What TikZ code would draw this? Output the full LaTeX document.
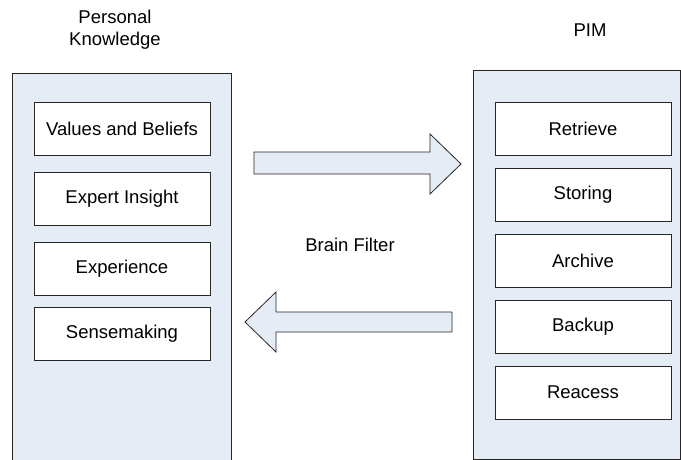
\documentclass[tikz,border=0pt]{standalone}
\usepackage{fontspec}
\setmainfont{Liberation Sans}
\begin{document}
\begin{tikzpicture}[x=1pt,y=-1pt,
  panel/.style={draw=black!85,fill=panelblue,line width=0.9pt},
  item/.style={draw=black!85,fill=white,line width=0.9pt,minimum width=176pt,minimum height=53pt,font=\fontsize{18.5}{22}\selectfont,inner sep=0pt},
  bigarrow/.style={draw=black!85,fill=panelblue,line width=0.8pt,line join=miter},
  lbl/.style={font=\fontsize{18.5}{22}\selectfont,align=center,inner sep=0pt}]
\definecolor{panelblue}{RGB}{230,236,246}
\useasboundingbox (0,0) rectangle (681,460);
\clip (0,0) rectangle (681,460);
% left panel (open at bottom)
\fill[panelblue] (12,73) rectangle (231,462);
\draw[black!85,line width=0.9pt] (12,462) -- (12,73) -- (231,73) -- (231,462);
% right panel
\draw[panel] (473,70) rectangle (680.5,459);
% titles
\node[lbl] (pk) at (115,30) {Personal\\Knowledge};
\node[lbl] (pim) at (590,30) {PIM};
\node[lbl] (bf) at (350,245) {Brain Filter};
% left items
\node[item] (vb) at (122,128.5) {Values and Beliefs};
\node[item] (ei) at (122,198.5) {Expert Insight};
\node[item] (ex) at (122,268.5) {Experience};
\node[item] (sm) at (122,334) {Sensemaking};
% right items
\node[item] (rt) at (583,128.5) {Retrieve};
\node[item] (st) at (583,194.5) {Storing};
\node[item] (ar) at (583,260.5) {Archive};
\node[item] (bk) at (583,326.5) {Backup};
\node[item] (ra) at (583,392.5) {Reacess};
% arrows
\draw[bigarrow] (254,152) -- (430,152) -- (430,134) -- (461,164) -- (430,194) -- (430,174) -- (254,174) -- cycle;
\draw[bigarrow] (452,312) -- (276,312) -- (276,292) -- (245,322) -- (276,352) -- (276,332) -- (452,332) -- cycle;
\end{tikzpicture}
\end{document}
